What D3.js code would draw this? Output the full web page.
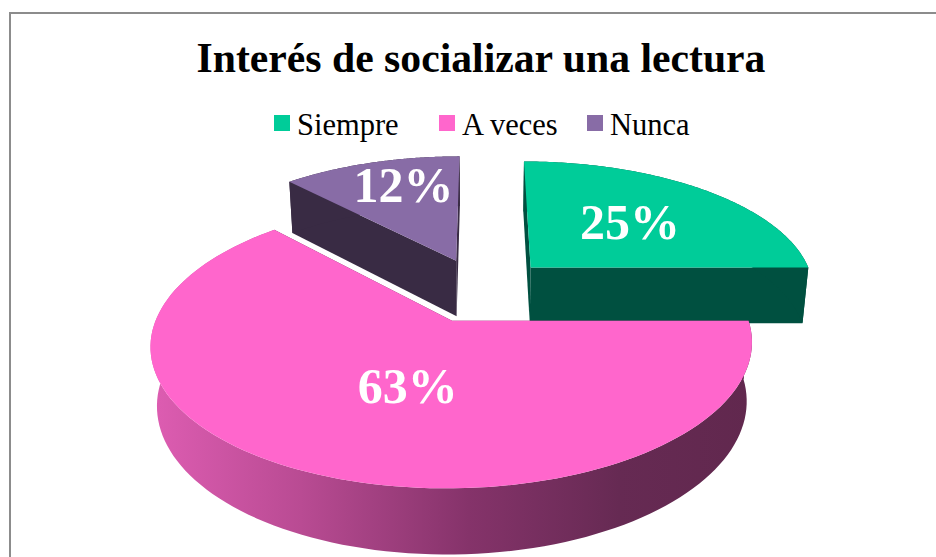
<!DOCTYPE html>
<html>
<head>
<meta charset="utf-8">
<script src="https://cdn.jsdelivr.net/npm/d3@7/dist/d3.min.js"></script>
<style>html,body{margin:0;padding:0;background:#fff}svg{display:block}</style>
</head>
<body>
<svg id="c" width="936" height="557"></svg>
<script>
const chartTitle = "Interés de socializar una lectura";
const categories = ["Siempre", "A veces", "Nunca"];
const values = [25, 63, 12];
const labels = ["25%", "63%", "12%"];
const topColors = ["#00cc99", "#ff66cc", "#886ca6"];
const sideColors = ["#005040", "url(#pinkSide)", "#392b44"];
const cutColors = ["#005040", "#62294f", "#392b44"];
const drawOrder = [0, 2, 1];

// Projection parameters of the tilted, exploded 3D pie
const cam = {cx: 481.5, cy: 289.8, A: 285.6, sinT: 0.454, cosT: 0.891, k: 0.18};
const explode = 0.25, depth = 0.228;

function project(X, Y, z) {
  const w = 1 - cam.k * cam.cosT * Y + cam.k * cam.sinT * z;
  return [cam.cx + cam.A * X / w, cam.cy + cam.A * (cam.sinT * Y + cam.cosT * z) / w];
}

const svg = d3.select("#c");
const defs = svg.append("defs");
const grad = defs.append("linearGradient").attr("id", "pinkSide")
  .attr("gradientUnits", "userSpaceOnUse")
  .attr("x1", 150).attr("x2", 752).attr("y1", 0).attr("y2", 0);
[[0, "#de5db2"], [0.25, "#b94b93"], [0.53, "#85336a"], [0.78, "#662a53"], [1, "#61284e"]]
  .forEach(([o, c]) => grad.append("stop").attr("offset", o).attr("stop-color", c));

// Chart frame
svg.append("path").attr("d", "M10,557V13H936").attr("fill", "none")
  .attr("stroke", "#8c8c8c").attr("stroke-width", 2);

svg.append("text").attr("x", 481).attr("y", 71.5).attr("text-anchor", "middle")
  .attr("font-family", "'Liberation Serif'").attr("font-weight", "bold")
  .attr("font-size", 41.7).attr("fill", "#000").text(chartTitle);

// Legend
const legendX = [274, 439, 587];
const legend = svg.append("g");
categories.forEach((name, i) => {
  legend.append("rect").attr("x", legendX[i]).attr("y", 115).attr("width", 16).attr("height", 16)
    .attr("fill", topColors[i]);
  legend.append("text").attr("x", legendX[i] + 23).attr("y", 134.5)
    .attr("font-family", "'Liberation Serif'").attr("font-size", 30.5).attr("fill", "#000").text(name);
});

// Slices
const arcs = d3.pie().sort(null).startAngle(0).endAngle(2 * Math.PI)(values);
const line = d3.line();
const labelNudge = [[9, -2], [22, -2], [-7, -21]];

const pie = svg.append("g");
drawOrder.forEach(i => {
  const a = arcs[i];
  const mid = (a.startAngle + a.endAngle) / 2;
  const ox = explode * Math.sin(mid), oy = -explode * Math.cos(mid);
  const pt = (ang, r, z) => project(ox + r * Math.sin(ang), oy - r * Math.cos(ang), z);
  const steps = d3.range(0, 121).map(j => a.startAngle + (a.endAngle - a.startAngle) * j / 120);

  const g = pie.append("g");
  // cut faces
  [a.startAngle, a.endAngle].forEach(ang => {
    g.append("path").attr("d", line([pt(ang, 0, 0), pt(ang, 1, 0), pt(ang, 1, depth), pt(ang, 0, depth)]) + "Z")
      .attr("fill", cutColors[i]);
  });
  // outer rim
  const rim = steps.map(s => pt(s, 1, 0)).concat(steps.slice().reverse().map(s => pt(s, 1, depth)));
  g.append("path").attr("d", line(rim) + "Z").attr("fill", sideColors[i]);
  // top face
  const top = [pt(a.startAngle, 0, 0)].concat(steps.map(s => pt(s, 1, 0)));
  g.append("path").attr("d", line(top) + "Z").attr("fill", topColors[i]);
});

// Value labels
drawOrder.forEach(i => {
  const a = arcs[i];
  const mid = (a.startAngle + a.endAngle) / 2;
  const X = (explode + 0.5) * Math.sin(mid), Y = -(explode + 0.5) * Math.cos(mid);
  const p = project(X, Y, 0);
  svg.append("text").attr("x", p[0] + labelNudge[i][0]).attr("y", p[1] + labelNudge[i][1] + 15)
    .attr("text-anchor", "middle")
    .attr("font-family", "'Liberation Serif'").attr("font-weight", "bold")
    .attr("font-size", 50).attr("fill", "#fff").text(labels[i]);
});
</script>
</body>
</html>
